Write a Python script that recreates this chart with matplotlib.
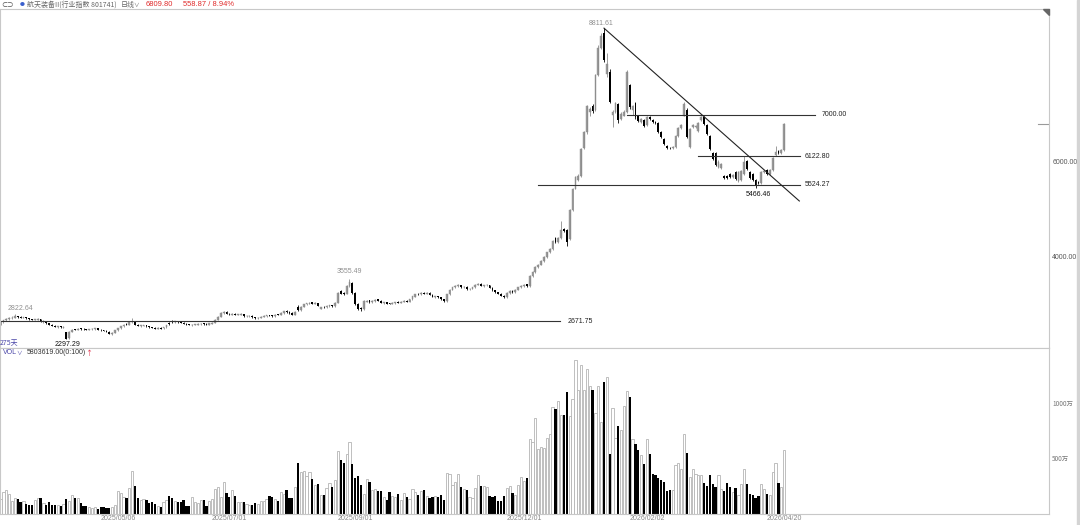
import numpy as np
import matplotlib.pyplot as plt
from matplotlib.patches import Rectangle, Polygon

# daily candles, 275 trading days (2025 spring -> 2026/04/20)
opens = [
    2600, 2650, 2690, 2715, 2735, 2745, 2775, 2760, 2740, 2750,
    2735, 2715, 2700, 2705, 2715, 2660, 2670, 2630, 2600, 2575,
    2545, 2560, 2535, 2440, 2310, 2450, 2505, 2490, 2515, 2510,
    2505, 2485, 2500, 2505, 2520, 2495, 2480, 2465, 2445, 2400,
    2430, 2480, 2520, 2560, 2610, 2590, 2650, 2660, 2600, 2565,
    2575, 2585, 2560, 2545, 2530, 2515, 2530, 2520, 2545, 2640,
    2670, 2650, 2670, 2655, 2640, 2620, 2605, 2585, 2590, 2595,
    2605, 2625, 2615, 2600, 2620, 2640, 2700, 2760, 2840, 2870,
    2830, 2810, 2825, 2805, 2810, 2815, 2770, 2775, 2785, 2750,
    2730, 2745, 2760, 2775, 2800, 2790, 2775, 2815, 2800, 2840,
    2880, 2865, 2845, 2800, 2960, 2900, 2970, 3020, 3040, 3065,
    3040, 3050, 2930, 2975, 2960, 2985, 3005, 2985, 3060, 3300,
    3270, 3240, 3400, 3480, 3270, 3030, 2950, 2920, 3080, 3110,
    3070, 3085, 3130, 3100, 3050, 3065, 3045, 3030, 3045, 3075,
    3060, 3075, 3100, 3080, 3130, 3185, 3250, 3230, 3265, 3245,
    3265, 3220, 3175, 3195, 3175, 3130, 3090, 3230, 3330, 3380,
    3400, 3420, 3380, 3395, 3335, 3350, 3380, 3430, 3450, 3405,
    3420, 3420, 3370, 3320, 3280, 3250, 3200, 3170, 3260, 3310,
    3280, 3330, 3380, 3400, 3440, 3400, 3620, 3700, 3800, 3850,
    3930, 4010, 4110, 4180, 4420, 4320, 4420, 4600, 4580, 4400,
    5000, 5450, 5620, 5720, 6300, 6630, 7050, 7180, 7100, 7820,
    8400, 8700, 7850, 7900, 7000, 7060, 7230, 6900, 6980, 7060,
    7620, 7100, 7240, 6980, 6840, 6880, 6780, 6950, 6880, 6850,
    6830, 6640, 6480, 6340, 6310, 6300, 6330, 6560, 6720, 6980,
    7100, 6330, 6740, 6730, 6650, 6880, 6940, 6780, 6560, 6200,
    6190, 5910, 5880, 5720, 5720, 5760, 5700, 5790, 5600, 5620,
    5750, 6020, 5800, 5760, 5620, 5580, 5560, 5790, 5840, 5760,
    5840, 6150, 6230, 6200, 6260,
]
closes = [
    2650, 2690, 2715, 2740, 2745, 2775, 2755, 2740, 2750, 2730,
    2715, 2700, 2710, 2720, 2665, 2675, 2630, 2600, 2575, 2550,
    2560, 2540, 2550, 2300, 2450, 2495, 2490, 2510, 2505, 2500,
    2490, 2500, 2510, 2520, 2495, 2480, 2465, 2450, 2410, 2430,
    2480, 2520, 2560, 2600, 2590, 2650, 2660, 2600, 2575, 2580,
    2585, 2560, 2545, 2530, 2515, 2525, 2515, 2545, 2580, 2620,
    2655, 2665, 2650, 2635, 2615, 2600, 2590, 2595, 2600, 2610,
    2620, 2610, 2600, 2625, 2640, 2700, 2760, 2850, 2870, 2830,
    2815, 2825, 2810, 2815, 2820, 2770, 2780, 2785, 2750, 2730,
    2745, 2760, 2775, 2795, 2785, 2775, 2810, 2800, 2840, 2875,
    2860, 2840, 2800, 2860, 2900, 2970, 3020, 3045, 3060, 3040,
    3055, 2990, 2960, 2960, 2985, 3000, 2985, 3060, 3260, 3250,
    3240, 3400, 3500, 3270, 3030, 2930, 2920, 3100, 3100, 3070,
    3095, 3110, 3100, 3060, 3065, 3040, 3030, 3050, 3065, 3060,
    3080, 3100, 3080, 3130, 3190, 3230, 3235, 3260, 3245, 3265,
    3220, 3180, 3190, 3170, 3130, 3085, 3230, 3330, 3380, 3410,
    3420, 3380, 3395, 3340, 3350, 3380, 3430, 3450, 3410, 3420,
    3430, 3370, 3320, 3280, 3250, 3200, 3170, 3260, 3310, 3280,
    3330, 3380, 3400, 3430, 3400, 3620, 3700, 3800, 3850, 3930,
    4010, 4110, 4180, 4350, 4320, 4420, 4580, 4560, 4320, 5000,
    5450, 5700, 5720, 6280, 6630, 7180, 7120, 7080, 7820, 8400,
    8650, 8150, 8060, 7270, 7060, 7240, 6880, 7020, 7060, 7890,
    7160, 7180, 6940, 6870, 6900, 6770, 6950, 6900, 6840, 6820,
    6640, 6530, 6380, 6300, 6290, 6330, 6560, 6720, 6780, 7230,
    6530, 6700, 6780, 6760, 6830, 6950, 6800, 6600, 6270, 6060,
    5950, 6010, 5960, 5670, 5680, 5700, 5740, 5650, 5790, 5820,
    6000, 5850, 5680, 5620, 5530, 5560, 5790, 5810, 5750, 5840,
    6090, 6210, 6200, 6250.93, 6809.80,
]
highs = [
    2670, 2705, 2730, 2760, 2770, 2822.64, 2785, 2770, 2765, 2760,
    2745, 2725, 2725, 2735, 2725, 2690, 2680, 2640, 2610, 2585,
    2575, 2570, 2565, 2450, 2460, 2510, 2515, 2525, 2525, 2520,
    2515, 2510, 2525, 2535, 2530, 2505, 2490, 2475, 2455, 2445,
    2490, 2530, 2575, 2615, 2625, 2665, 2737, 2670, 2610, 2595,
    2600, 2595, 2570, 2555, 2540, 2540, 2540, 2555, 2595, 2655,
    2685, 2680, 2680, 2665, 2650, 2630, 2615, 2610, 2615, 2625,
    2635, 2635, 2625, 2635, 2655, 2715, 2775, 2870, 2890, 2880,
    2840, 2840, 2835, 2830, 2835, 2825, 2795, 2800, 2795, 2760,
    2755, 2775, 2790, 2810, 2810, 2800, 2825, 2825, 2855, 2890,
    2895, 2875, 2855, 2875, 3000, 2985, 3035, 3060, 3080, 3075,
    3070, 3060, 2975, 2985, 3000, 3015, 3015, 3075, 3280, 3330,
    3290, 3420, 3555.49, 3495, 3285, 3050, 2970, 3115, 3120, 3120,
    3110, 3125, 3140, 3110, 3080, 3075, 3055, 3065, 3080, 3085,
    3095, 3115, 3110, 3145, 3205, 3250, 3265, 3275, 3275, 3280,
    3275, 3230, 3205, 3205, 3185, 3140, 3245, 3345, 3395, 3430,
    3440, 3430, 3410, 3405, 3365, 3395, 3445, 3470, 3460, 3435,
    3445, 3430, 3380, 3330, 3290, 3260, 3210, 3275, 3325, 3320,
    3345, 3395, 3420, 3450, 3455, 3640, 3720, 3820, 3875, 3950,
    4030, 4130, 4200, 4370, 4440, 4440, 4780, 4630, 4600, 5020,
    5470, 5720, 5760, 6300, 6650, 7200, 7160, 7220, 7850, 8450,
    8700, 8811.61, 8300, 7950, 7100, 7270, 7250, 7050, 7090, 7930,
    7650, 7210, 7260, 7000, 6930, 6900, 6980, 6970, 6900, 6870,
    6850, 6660, 6500, 6360, 6330, 6350, 6580, 6740, 6810, 7270,
    7130, 6720, 6810, 6790, 6850, 6980, 6960, 6800, 6580, 6220,
    6210, 6040, 5990, 5740, 5740, 5780, 5760, 5810, 5810, 5840,
    6130, 6040, 5820, 5780, 5640, 5600, 5810, 5830, 5860, 5860,
    6110, 6350, 6250, 6270, 6830,
]
lows = [
    2590, 2640, 2680, 2705, 2725, 2740, 2745, 2730, 2730, 2720,
    2705, 2690, 2690, 2695, 2655, 2640, 2620, 2590, 2565, 2540,
    2535, 2530, 2525, 2297.29, 2300, 2440, 2480, 2480, 2495, 2490,
    2480, 2475, 2490, 2495, 2485, 2470, 2455, 2440, 2395, 2390,
    2420, 2470, 2510, 2550, 2580, 2580, 2640, 2590, 2565, 2555,
    2565, 2550, 2535, 2520, 2505, 2505, 2505, 2510, 2535, 2600,
    2640, 2640, 2640, 2625, 2605, 2590, 2580, 2575, 2580, 2585,
    2595, 2600, 2590, 2590, 2610, 2630, 2690, 2750, 2830, 2820,
    2800, 2800, 2800, 2795, 2800, 2760, 2760, 2765, 2740, 2720,
    2720, 2735, 2750, 2765, 2775, 2765, 2765, 2790, 2790, 2830,
    2850, 2830, 2790, 2790, 2880, 2890, 2960, 3010, 3030, 3030,
    3030, 2980, 2915, 2950, 2950, 2975, 2975, 2975, 3050, 3230,
    3220, 3230, 3390, 3250, 3010, 2900, 2890, 2910, 3065, 3060,
    3060, 3075, 3090, 3050, 3040, 3030, 3020, 3020, 3035, 3050,
    3050, 3065, 3070, 3070, 3120, 3175, 3225, 3220, 3235, 3235,
    3210, 3170, 3165, 3160, 3120, 3075, 3080, 3220, 3320, 3370,
    3390, 3370, 3370, 3330, 3325, 3340, 3370, 3420, 3400, 3395,
    3410, 3360, 3310, 3270, 3240, 3190, 3160, 3160, 3250, 3270,
    3270, 3320, 3370, 3390, 3385, 3390, 3600, 3690, 3785, 3840,
    3915, 4000, 4095, 4170, 4300, 4300, 4400, 4540, 4250, 4380,
    4980, 5430, 5600, 5700, 6280, 6600, 6980, 7040, 7080, 7800,
    8380, 8100, 7780, 7250, 6750, 7040, 6830, 6880, 6960, 7040,
    7120, 7000, 6900, 6850, 6820, 6750, 6760, 6880, 6820, 6800,
    6620, 6510, 6360, 6280, 6270, 6280, 6310, 6540, 6700, 6960,
    6500, 6300, 6720, 6710, 6630, 6860, 6780, 6580, 6250, 6040,
    5930, 5890, 5860, 5650, 5660, 5680, 5680, 5620, 5580, 5600,
    5730, 5830, 5660, 5600, 5466.46, 5540, 5540, 5770, 5730, 5740,
    5820, 6130, 6180, 6180, 6240,
]
# volume in 万
volumes = [
    136, 197, 215, 182, 115, 145, 139, 109, 121, 91,
    85, 85, 124, 148, 148, 100, 82, 112, 79, 79,
    85, 70, 94, 136, 121, 173, 142, 142, 97, 73,
    76, 64, 52, 64, 48, 64, 67, 52, 55, 61,
    82, 212, 191, 150, 142, 236, 394, 251, 142, 124,
    133, 130, 97, 112, 88, 70, 64, 106, 130, 164,
    148, 121, 106, 112, 127, 73, 76, 155, 109, 100,
    127, 124, 73, 121, 133, 227, 245, 158, 291, 191,
    152, 218, 164, 109, 109, 112, 94, 82, 82, 97,
    91, 115, 118, 133, 167, 158, 133, 118, 200, 185,
    215, 145, 145, 245, 460, 385, 391, 345, 379, 318,
    261, 273, 173, 176, 236, 282, 245, 312, 573, 494,
    467, 545, 654, 458, 327, 342, 264, 182, 318, 291,
    218, 227, 212, 212, 152, 130, 203, 161, 155, 185,
    130, 188, 155, 139, 227, 200, 176, 206, 215, 161,
    145, 158, 167, 158, 170, 124, 373, 367, 267, 291,
    364, 248, 227, 215, 158, 148, 239, 355, 258, 258,
    248, 161, 158, 167, 115, 115, 161, 239, 258, 194,
    170, 267, 336, 303, 330, 685, 658, 873, 591, 612,
    597, 688, 727, 973, 958, 1027, 900, 903, 1109, 894,
    1048, 1403, 1127, 1357, 1127, 1321, 1160, 1124, 921, 1164,
    836, 1203, 1245, 548, 964, 694, 800, 767, 982, 1115,
    1064, 682, 633, 585, 533, 455, 679, 548, 364, 355,
    327, 306, 288, 206, 221, 221, 448, 467, 412, 730,
    551, 339, 409, 367, 355, 355, 279, 258, 355, 273,
    242, 355, 227, 212, 279, 248, 203, 236, 170, 273,
    409, 273, 185, 173, 148, 160, 273, 230, 185, 170,
    385, 467, 285, 242, 580.3619,
]
date_labels = ["2025/05/06", "2025/07/01", "2025/09/01", "2025/12/01", "2026/02/02", "2026/04/20"]
date_index = [41, 80, 124, 183, 226, 274]

# hand-drawn support / resistance levels
level_values = [2671.75, 5524.27, 6122.80, 7000.00]
trend_end_price = 5189

W, H = 1080, 525
fig = plt.figure(figsize=(W / 100, H / 100), dpi=100)
fig.patch.set_facecolor("white")

def fx(px):
    return px / W

def fy(py):
    return 1 - py / H

left, right, top, mid, bottom = 0, 1049, 9, 348, 514
ax = fig.add_axes([fx(left), fy(mid), fx(right - left), (mid - top) / H])
vax = fig.add_axes([fx(left), fy(bottom), fx(right - left), (bottom - mid) / H])

o = np.array(opens, dtype=float)
c = np.array(closes, dtype=float)
hi = np.array(highs, dtype=float)
lo = np.array(lows, dtype=float)
v = np.array(volumes, dtype=float)
x = np.arange(len(c))
up = c >= o

xmin, xmax = -0.2, 366.6
for a in (ax, vax):
    a.set_xlim(xmin, xmax)
    a.set_xticks([])
    a.set_yticks([])
    for s in a.spines.values():
        s.set_color("#c8c8c8")
        s.set_linewidth(0.8)
ax.set_ylim(2108, 9213)
vax.set_ylim(0, 1509)

# candles
ax.vlines(x[up], lo[up], hi[up], color="#8c8c8c", lw=0.6)
ax.vlines(x[~up], lo[~up], hi[~up], color="black", lw=0.6)
body_bot = np.minimum(o, c)
body_h = np.maximum(np.abs(c - o), 12)
ax.bar(x[up], body_h[up], 0.62, bottom=body_bot[up], color="#9c9c9c",
       edgecolor="#8c8c8c", lw=0.3)
ax.bar(x[~up], body_h[~up], 0.62, bottom=body_bot[~up], color="black", lw=0)

# volume
vax.bar(x[up], v[up], 0.78, facecolor="white", edgecolor="#b4b4b4", lw=0.6)
vax.bar(x[~up], v[~up], 0.78, color="black", lw=0)

# level lines
line_spans = [(xmin, 195.6), (188, 279.5), (243.9, 279.5), (219, 284.8)]
label_x = [198.1, 281.3, 281.3, 287.2]
num_font = ["Liberation Sans", "DejaVu Sans"]
for val, (a, b), lx in zip(level_values, line_spans, label_x):
    ax.plot([a, b], [val, val], color="#333333", lw=0.8)
    ax.text(lx, val, f"{val:.2f}", ha="left", va="center", fontsize=5,
            color="#222222", family=num_font)

i_peak = int(np.argmax(hi))
ax.plot([i_peak, 279.3], [hi[i_peak], trend_end_price], color="#222222", lw=0.8)

# extreme labels
i_h1 = int(np.argmax(hi[:40]))
i_h2 = int(np.argmax(hi[100:150])) + 100
i_l1 = int(np.argmin(lo[:60]))
i_l2 = int(np.argmin(lo[240:])) + 240
gray = "#909090"
ax.text(i_peak - 1, hi[i_peak] + 30, f"{hi[i_peak]:.2f}", ha="center", va="bottom",
        fontsize=5, color=gray, family=num_font)
ax.text(i_h2, hi[i_h2] + 80, f"{hi[i_h2]:.2f}", ha="center", va="bottom",
        fontsize=5, color=gray, family=num_font)
ax.text(i_h1 - 2.7, hi[i_h1] + 40, f"{hi[i_h1]:.2f}", ha="left", va="bottom",
        fontsize=5, color=gray, family=num_font)
ax.text(i_l1 + 0.5, lo[i_l1] - 40, f"{lo[i_l1]:.2f}", ha="center", va="top",
        fontsize=5, color="#111111", family=num_font)
ax.text(i_l2 + 1, lo[i_l2] - 60, f"{lo[i_l2]:.2f}", ha="center", va="top",
        fontsize=5, color="#111111", family=num_font)

# current price marker on right edge
ax.axhline(c[-1], xmin=1038 / 1049, xmax=1, color="#9a9a9a", lw=0.8)

# right axis labels
for val in [6000, 4000]:
    ax.text(1.003, (val - 2108) / (9213 - 2108), f"{val:.2f}", transform=ax.transAxes,
            ha="left", va="center", fontsize=5, color="#555555", family=num_font, clip_on=False)
cjk = ["Noto Sans CJK SC", "DejaVu Sans"]
for val, lab in [(1000, "1000万"), (500, "500万")]:
    vax.text(1.003, val / 1509, lab, transform=vax.transAxes, ha="left", va="center",
             fontsize=4.6, color="#777777", family=cjk, clip_on=False)

# date labels
for idx, lab in zip(date_index, date_labels):
    vax.text(idx, -12, lab, ha="center", va="top", fontsize=5, color="#888888",
             family=num_font, clip_on=False)

# header
hy = fy(5)
fig.text(fx(1), hy, "⊂⊃", fontsize=4.5, color="#555555", va="center", family=cjk)
fig.text(fx(20), hy, "●", fontsize=3.5, color="#3a5fcd", va="center", family=cjk)
fig.text(fx(27), hy, "航天装备II(行业指数 801741)", fontsize=5, color="#666666",
         va="center", family=cjk)
fig.text(fx(121), hy, "日线", fontsize=5, color="#666666", va="center", family=cjk)
fig.text(fx(133), hy, "∨", fontsize=4, color="#666666", va="center", family=cjk)
fig.text(fx(146), hy, f"{c[-1]:.2f}", fontsize=5.4, color="#e02a2a", va="center",
         family=num_font)
chg = c[-1] - c[-2]
fig.text(fx(183), hy, f"{chg:.2f} / {chg / c[-2] * 100:.2f}%", fontsize=5.4,
         color="#e02a2a", va="center", family=num_font)

# panel captions
fig.text(fx(0), fy(343), f"{len(c)}天", fontsize=5, color="#4a46a8", va="center", family=cjk)
fig.text(fx(3), fy(353), "VOL", fontsize=5, color="#4a46a8", va="center", family=num_font)
fig.text(fx(16), fy(353), "∨", fontsize=4, color="#4a46a8", va="center", family=cjk)
fig.text(fx(27), fy(353), f"{v[-1] * 10000:.2f}(0:100)", fontsize=5, color="#333333",
         va="center", family=num_font)
fig.text(fx(85), fy(353), "↑", fontsize=5, color="#e0304a", va="center", family=cjk)

# corner marker and scrollbar strip
fig.patches.append(Polygon([(fx(1043), fy(9)), (fx(1049), fy(9)), (fx(1049), fy(15))],
                           closed=True, transform=fig.transFigure, color="#666666"))
fig.patches.append(Rectangle((fx(1077), 0), fx(3), 1, transform=fig.transFigure,
                             color="#d4d4d4"))

fig.savefig("out.png", dpi=100, facecolor="white")
